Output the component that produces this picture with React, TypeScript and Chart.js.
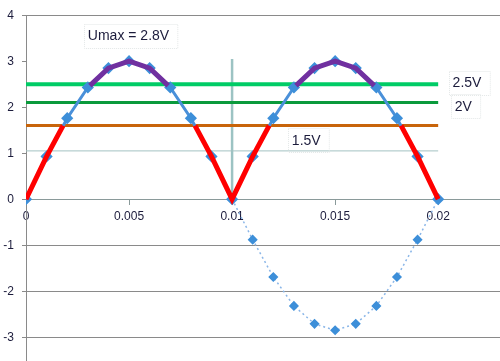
import React, { useEffect, useRef } from "react";
import { Chart, registerables } from "chart.js";

Chart.register(...registerables);

// time axis (s) and voltages (V)
const tX = [0, 0.001, 0.002, 0.003, 0.004, 0.005, 0.006, 0.007, 0.008, 0.009, 0.01, 0.011, 0.012, 0.013, 0.014, 0.015, 0.016, 0.017, 0.018, 0.019, 0.02];
const uRectified = [0, 0.93, 1.76, 2.43, 2.85, 3, 2.85, 2.43, 1.76, 0.93, 0, 0.93, 1.76, 2.43, 2.85, 3, 2.85, 2.43, 1.76, 0.93, 0];
const tNeg = [0.01, 0.011, 0.012, 0.013, 0.014, 0.015, 0.016, 0.017, 0.018, 0.019, 0.02];
const uNeg = [0, -0.88, -1.69, -2.32, -2.71, -2.85, -2.71, -2.32, -1.69, -0.88, 0];
const redX = [0, 0.001, 0.0018, 0.005, 0.0082, 0.009, 0.01, 0.011, 0.0118, 0.015, 0.0182, 0.019, 0.02];
const redY = [0, 0.93, 1.6, null, 1.6, 0.93, 0, 0.93, 1.6, null, 1.6, 0.93, 0];
const purpleX = [0.0031, 0.004, 0.005, 0.006, 0.0069, 0.01, 0.0131, 0.014, 0.015, 0.016, 0.0169];
const purpleY = [2.47, 2.85, 3, 2.85, 2.47, null, 2.47, 2.85, 3, 2.85, 2.47];
const levelValues = [2.5, 2.1, 1.6, 1.05];
const levelColors = ["#00cc66", "#0a9a3c", "#c8640a", "#a3c2c2"];
const levelWidths = [4, 3, 3, 1];
const levelRange = [0, 0.02];
const markerX = 0.01;
const markerRange = [0, 3.05];
const xTicks = [0, 0.005, 0.01, 0.015, 0.02];
const xTickLabels = ["0", "0.005", "0.01", "0.015", "0.02"];
const yTicks = [-3, -2, -1, 0, 1, 2, 3, 4];
const yGridShown = [4, -1, -2, -3];
const noteTexts = ["Umax = 2.8V", "2.5V", "2V", "1.5V"];
const noteX = [0.003, 0.0207, 0.0208, 0.0129];
const noteY = [3.55, 2.53, 2.02, 1.28];

const pts = (xs: number[], ys: (number | null)[]) => xs.map((x, i) => ({ x, y: ys[i] }));

const notesPlugin = {
  id: "notes",
  afterDatasetsDraw(chart: any) {
    const { ctx, scales } = chart;
    ctx.save();
    ctx.font = '14px "Liberation Sans", Arial, sans-serif';
    ctx.textBaseline = "middle";
    ctx.textAlign = "left";
    noteTexts.forEach((t, i) => {
      const px = scales.x.getPixelForValue(noteX[i]);
      const py = scales.y.getPixelForValue(noteY[i]);
      const w = ctx.measureText(t).width;
      ctx.strokeStyle = "#e3e7e7";
      ctx.lineWidth = 1;
      ctx.setLineDash([1, 1]);
      ctx.strokeRect(Math.round(px - 4) + 0.5, Math.round(py - 12) + 0.5, w + 12, 24);
      ctx.setLineDash([]);
      ctx.fillStyle = "#1c1c3c";
      ctx.fillText(t, px, py + 0.5);
    });
    ctx.restore();
  },
};

export default function App() {
  const ref = useRef<HTMLCanvasElement>(null);
  useEffect(() => {
    if (!ref.current) return;
    const levelSets = levelValues.map((v, i) => ({
      data: pts(levelRange, [v, v]),
      borderColor: levelColors[i],
      borderWidth: levelWidths[i],
      pointRadius: 0,
    }));
    const chart = new Chart(ref.current, {
      type: "line",
      data: {
        datasets: [
          { data: pts(redX, redY), borderColor: "#ff0000", borderWidth: 5, pointRadius: 0, spanGaps: false },
          { data: pts(purpleX, purpleY), borderColor: "#7030a0", borderWidth: 5, pointRadius: 0, spanGaps: false },
          {
            data: pts(tX, uRectified),
            borderColor: "#4a90d9",
            borderWidth: 3,
            pointStyle: "rectRot",
            pointRadius: 4,
            pointBackgroundColor: "#3d8fd9",
            pointBorderColor: "#3d8fd9",
          },
          ...levelSets,
          {
            data: pts(tNeg, uNeg),
            borderColor: "#8ab6e8",
            borderWidth: 1.5,
            borderDash: [2, 3],
            pointStyle: "rectRot",
            pointRadius: 4,
            pointBackgroundColor: "#3d8fd9",
            pointBorderColor: "#3d8fd9",
          },
          {
            data: pts([markerX, markerX], markerRange),
            borderColor: "#9cc3c3",
            borderWidth: 2.5,
            pointRadius: 0,
          },
        ] as any,
      },
      options: {
        responsive: false,
        animation: false,
        events: [],
        layout: { autoPadding: false, padding: { top: 15, left: 0, right: 0, bottom: 0 } },
        plugins: { legend: { display: false }, tooltip: { enabled: false }, title: { display: false } },
        elements: { line: { tension: 0 } },
        scales: {
          x: {
            type: "linear",
            position: { y: 0 } as any,
            min: 0,
            max: 0.023,
            afterBuildTicks: (s: any) => {
              s.ticks = xTicks.map((v) => ({ value: v }));
            },
            afterFit: (s: any) => {
              s.height = 0;
            },
            grid: { drawOnChartArea: false, drawTicks: true, tickLength: 5, tickColor: "#8a9a9a" },
            border: { display: true, color: "#8a9a9a", width: 1 },
            ticks: {
              padding: 5,
              maxRotation: 0,
              autoSkip: false,
              color: "#1c1c3c",
              font: { family: '"Liberation Sans", Arial, sans-serif', size: 12 },
              callback: (v: any) => {
                const i = xTicks.findIndex((t) => Math.abs(t - Number(v)) < 1e-9);
                return i >= 0 ? xTickLabels[i] : "";
              },
            },
          },
          y: {
            type: "linear",
            min: -3.6,
            max: 4,
            afterBuildTicks: (s: any) => {
              s.ticks = yTicks.map((v) => ({ value: v }));
            },
            afterFit: (s: any) => {
              s.width = 26;
            },
            grid: {
              color: (c: any) => (yGridShown.includes(c.tick?.value) ? "#8a8a8a" : "rgba(0,0,0,0)"),
              tickColor: "#8a8a8a",
              tickLength: 4,
              lineWidth: 1,
            },
            border: { display: true, color: "#8a8a8a", width: 1 },
            ticks: {
              padding: 8,
              color: "#1c1c3c",
              font: { family: '"Liberation Sans", Arial, sans-serif', size: 12 },
              callback: (v: any) => String(v),
            },
          },
        },
      } as any,
      plugins: [notesPlugin],
    });
    return () => chart.destroy();
  }, []);
  return (
    <div style={{ position: "absolute", left: 0, top: 0, width: 500, height: 361, overflow: "hidden", background: "#fff" }}>
      <canvas ref={ref} width={500} height={380} style={{ width: 500, height: 380, display: "block" }} />
    </div>
  );
}
